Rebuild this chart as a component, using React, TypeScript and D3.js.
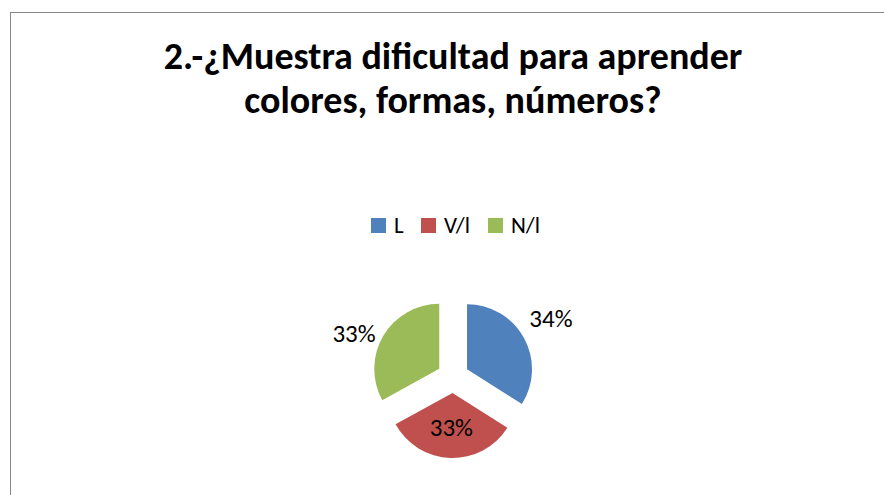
import React from "react";
import * as d3 from "d3";

const categories = ["L", "V/l", "N/l"];
const values = [34, 33, 33];
const labels = ["34%", "33%", "33%"];
const colors = ["#4F81BD", "#C0504D", "#9BBB59"];
const titleLines = ["2.-¿Muestra dificultad para aprender", "colores, formas, números?"];

export default function App() {
  const W = 884, H = 495;
  const cx = 453, cy = 377, r = 65, explode = 16;
  const pie = d3.pie<number>().sort(null).value((d) => d);
  const arcs = pie(values);
  const arc = d3.arc<d3.PieArcDatum<number>>().innerRadius(0).outerRadius(r);
  const font = "Carlito, Calibri, 'Liberation Sans', Arial, sans-serif";

  const legendX = [371, 421, 488];
  const labelRadius = [114, 51, 108];
  const labelShiftDeg = [-2, 0, -7];

  return (
    <svg width={W} height={H} style={{ position: "absolute", left: 0, top: 0, background: "#fff" }} fontFamily={font}>
      <rect x={10.5} y={12.5} width={W} height={H} fill="#fff" stroke="#878787" strokeWidth={1} />
      {titleLines.map((t, i) => (
        <text key={i} x={453} y={69 + i * 44} textAnchor="middle" fontWeight="bold" fontSize={38} fill="#000">
          {t}
        </text>
      ))}
      {categories.map((c, i) => (
        <g key={c}>
          <rect x={legendX[i]} y={218} width={15} height={15} fill={colors[i]} />
          <text x={legendX[i] + 23} y={233} fontSize={23} fill="#000">{c}</text>
        </g>
      ))}
      {arcs.map((a, i) => {
        const mid = (a.startAngle + a.endAngle) / 2;
        const ox = explode * Math.sin(mid);
        const oy = -explode * Math.cos(mid);
        const la = mid + (labelShiftDeg[i] * Math.PI) / 180;
        const lr = labelRadius[i];
        const lx = cx + lr * Math.sin(la);
        const ly = cy - lr * Math.cos(la);
        return (
          <g key={i}>
            <path d={arc(a) || ""} transform={`translate(${cx + ox},${cy + oy})`} fill={colors[i]} />
            <text x={lx} y={ly + 8} textAnchor="middle" fontSize={25} fill="#000">{labels[i]}</text>
          </g>
        );
      })}
    </svg>
  );
}
